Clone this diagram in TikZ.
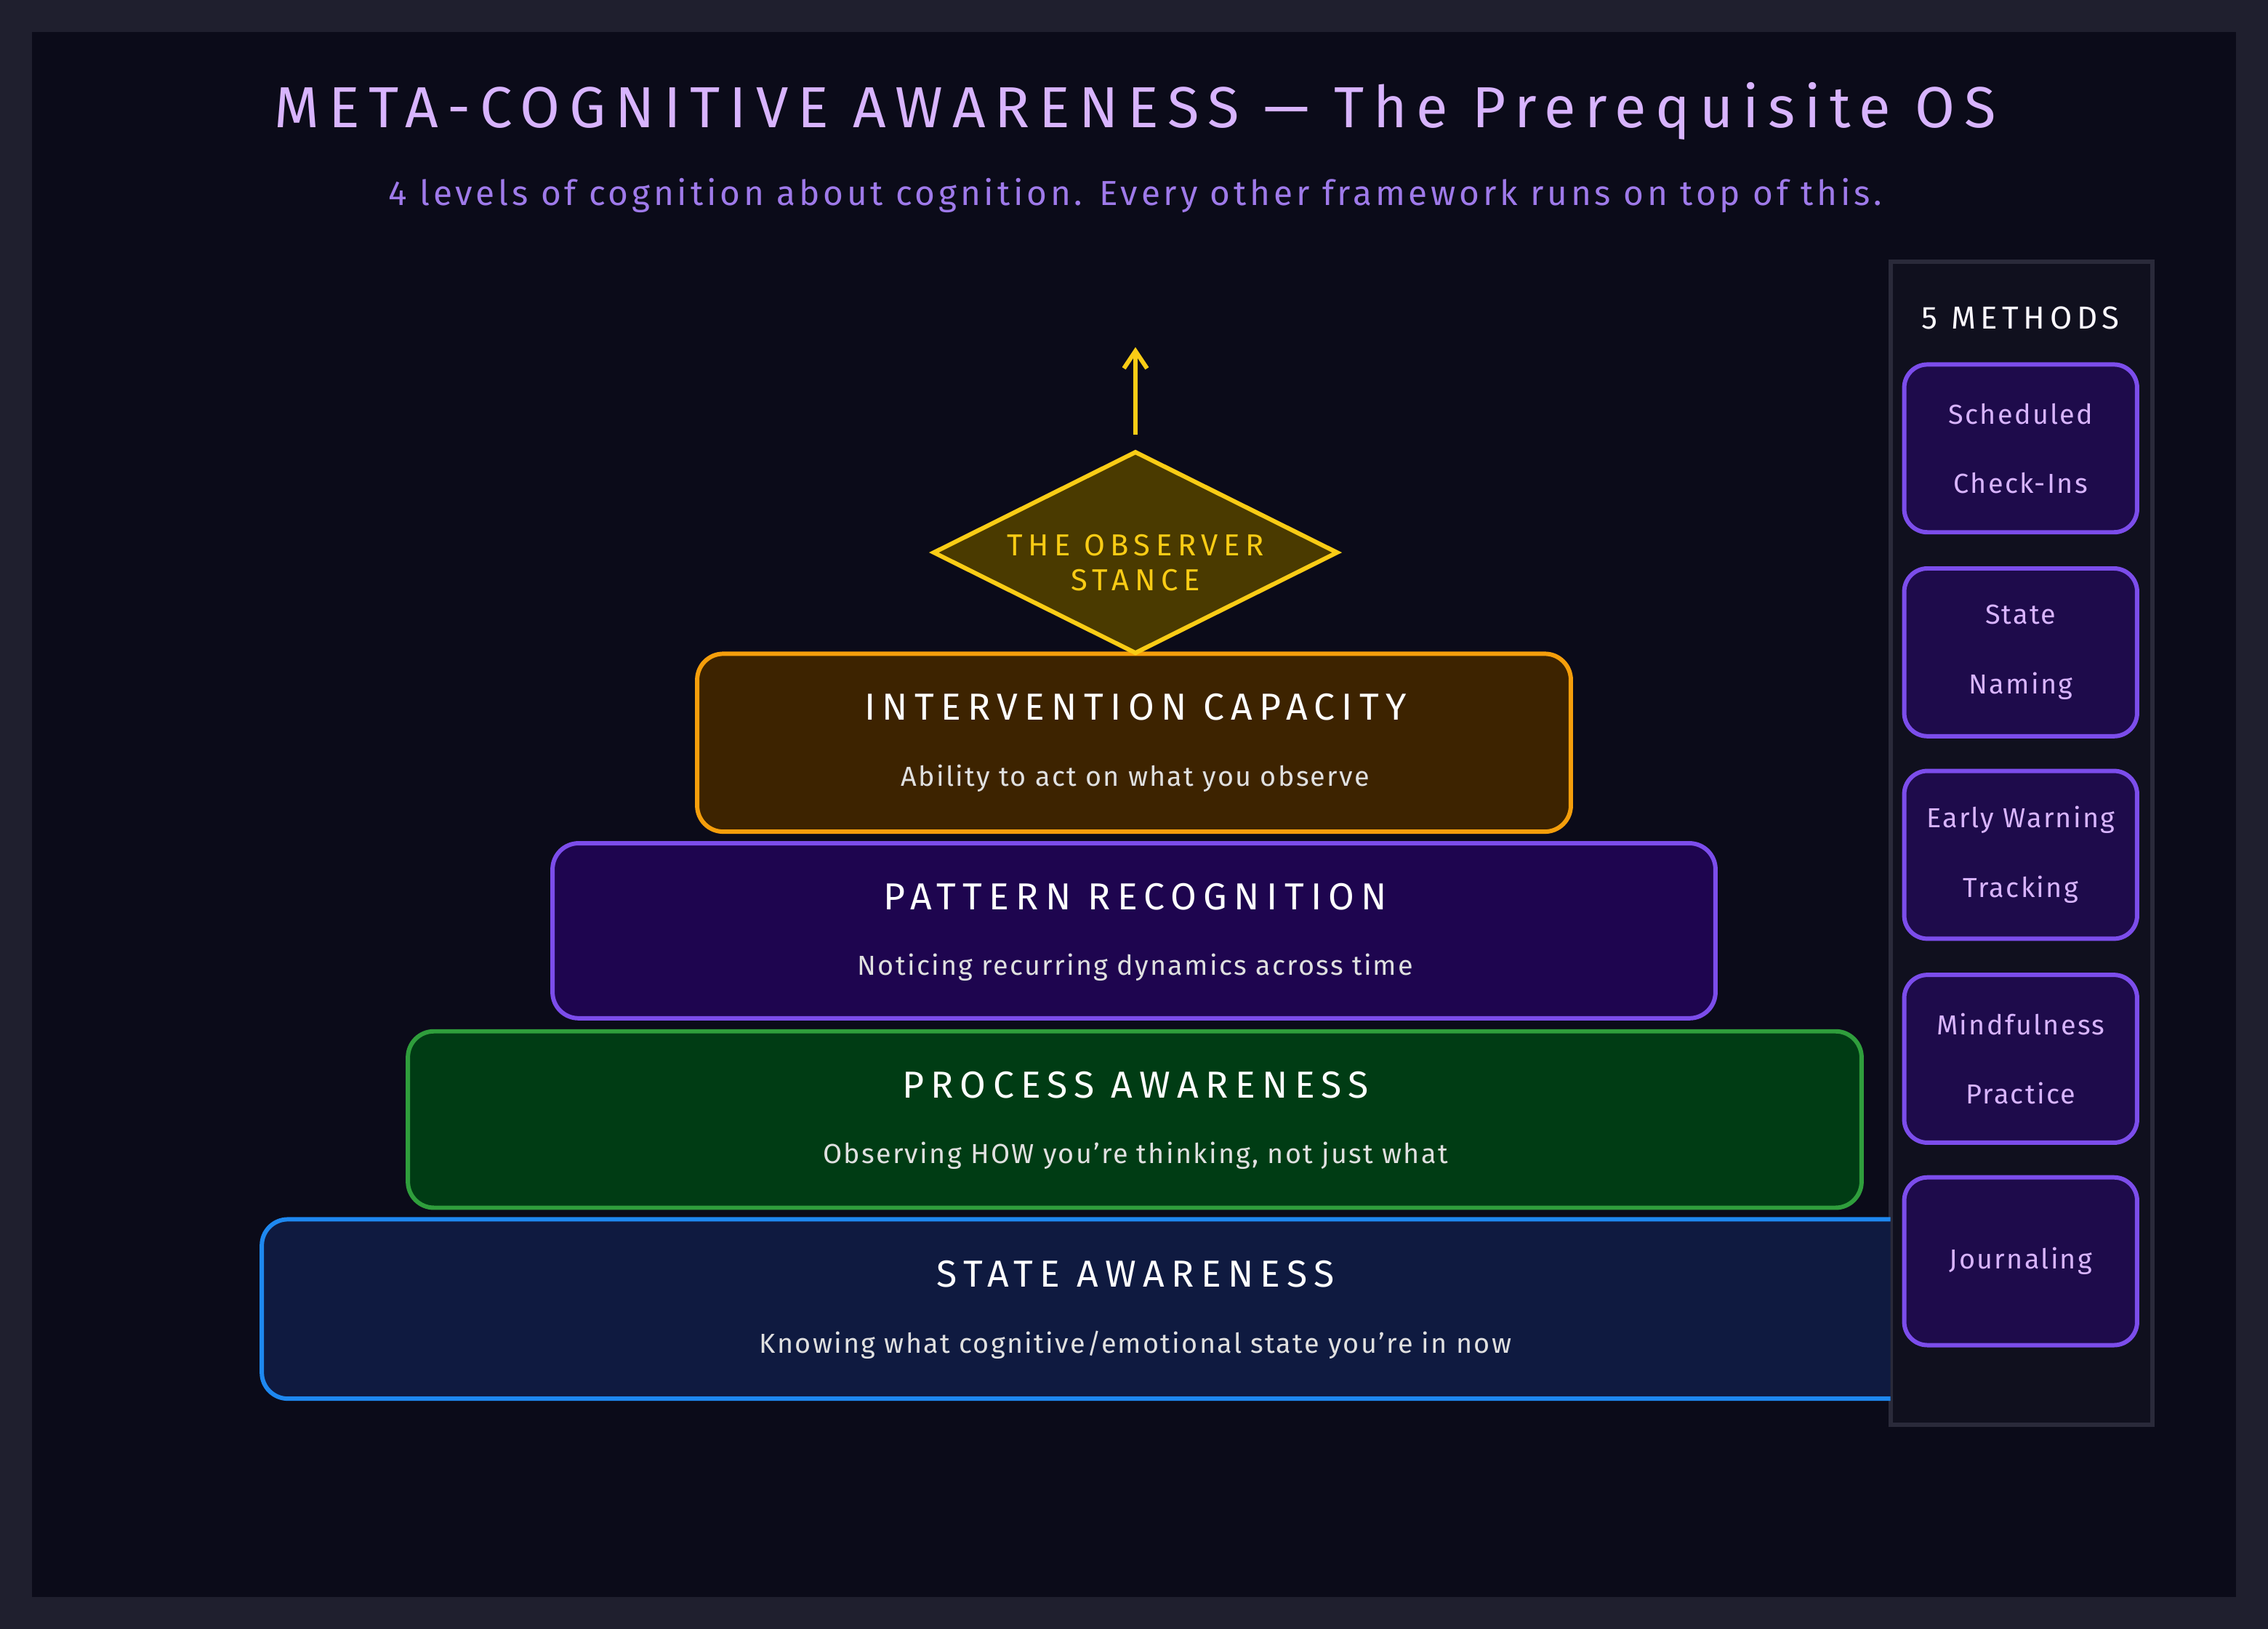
\documentclass[tikz,border=0pt]{standalone}
\usepackage{fontspec}
\setmainfont{Fira Sans}
\usetikzlibrary{shapes.geometric,arrows.meta}
\definecolor{frame}{HTML}{1F1F2E}
\definecolor{bg}{HTML}{0B0B19}
\definecolor{lav}{HTML}{D8B4FE}
\definecolor{sub}{HTML}{9F7AEA}
\definecolor{yel}{HTML}{FACC15}
\definecolor{dia}{HTML}{4A3A00}
\definecolor{ofill}{HTML}{3D2300}
\definecolor{oline}{HTML}{F59E0B}
\definecolor{pfill}{HTML}{1E054F}
\definecolor{pline}{HTML}{7C4DEB}
\definecolor{gfill}{HTML}{003C14}
\definecolor{gline}{HTML}{2F9E3C}
\definecolor{bfill}{HTML}{0F1A40}
\definecolor{bline}{HTML}{1E88F0}
\definecolor{panel}{HTML}{10101E}
\definecolor{pborder}{HTML}{2A2A3A}
\definecolor{mfill}{HTML}{1E0B4B}
\newcommand{\ls}[1]{\addfontfeature{LetterSpace=#1}}
\begin{document}
\begin{tikzpicture}[x=1pt,y=-1pt,
 tier/.style={draw=#1,line width=3pt,rounded corners=18pt},
 ttl/.style={text=white,font=\fontsize{26}{28}\selectfont\ls{18}},
 stl/.style={text=white!88!black,font=\fontsize{19}{21}\selectfont\ls{6}},
 meth/.style={draw=pline,fill=mfill,line width=3pt,rounded corners=16pt,minimum width=161pt,minimum height=116pt,text=lav,align=center,font=\fontsize{19}{48}\selectfont\ls{6}}]
\fill[frame] (0,0) rectangle (1568,1126);
\fill[bg] (22,22) rectangle (1546,1104);
\useasboundingbox (0,0) rectangle (1568,1126);
\node[text=lav,font=\fontsize{40}{44}\selectfont\ls{16}] (title) at (785,77) {META-COGNITIVE AWARENESS — The Prerequisite OS};
\node[text=sub,font=\fontsize{24}{26}\selectfont\ls{10}] (subt) at (785,135) {4 levels of cognition about cognition. Every other framework runs on top of this.};
% panel
\draw[pborder,fill=panel,line width=3pt] (1307,181) rectangle (1488,985);
\node[text=white!90!lav,font=\fontsize{22}{24}\selectfont\ls{15}] (mh) at (1397,220) {5 METHODS};
\node[meth] (m1) at (1397,310) {Scheduled\\Check-Ins};
\node[meth] (m2) at (1397,451) {State\\Naming};
\node[meth] (m3) at (1397,591) {Early Warning\\Tracking};
\node[meth] (m4) at (1397,732) {Mindfulness\\Practice};
\node[meth] (m5) at (1397,872) {Journaling};
% tiers
\draw[tier=bline,fill=bfill] (1307,843) -- (181,843) -- (181,967) -- (1307,967);
\node[ttl] (t4) at (785,881) {STATE AWARENESS};
\node[stl] (s4) at (785,930) {Knowing what cognitive/emotional state you're in now};
\draw[tier=gline,fill=gfill] (282,713) rectangle (1287,835);
\node[ttl] (t3) at (785,750) {PROCESS AWARENESS};
\node[stl] (s3) at (785,799) {Observing HOW you're thinking, not just what};
\draw[tier=pline,fill=pfill] (382,583) rectangle (1186,704);
\node[ttl] (t2) at (785,620) {PATTERN RECOGNITION};
\node[stl] (s2) at (785,669) {Noticing recurring dynamics across time};
\draw[tier=oline,fill=ofill] (482,452) rectangle (1086,575);
\node[ttl] (t1) at (785,489) {INTERVENTION CAPACITY};
\node[stl] (s1) at (785,538) {Ability to act on what you observe};
% diamond
\node[diamond,draw=yel,fill=dia,line width=3pt,minimum width=280pt,minimum height=140pt,inner sep=0pt] (obs) at (785,382) {};
\node[text=yel,align=center,font=\fontsize{21}{24}\selectfont\ls{18}] (obst) at (785,389) {THE OBSERVER\\STANCE};
\coordinate (tip) at (785,240);
\draw[yel,line width=3pt,-{Straight Barb[length=12pt,width=16pt]}] (obs.north) ++(0,-10) -- (tip);
\end{tikzpicture}
\end{document}
